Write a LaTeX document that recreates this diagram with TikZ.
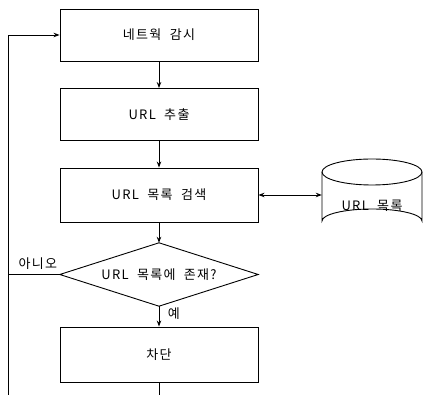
\documentclass[tikz,border=0pt]{standalone}
\usepackage{fontspec}
\setmainfont{Noto Sans CJK KR}[LetterSpace=10,WordSpace=2]
\usetikzlibrary{arrows.meta}
\begin{document}
\begin{tikzpicture}[x=1pt,y=-1pt,
  every node/.style={font=\fontsize{13}{15}\selectfont},
  proc/.style={draw,line width=0.9pt,minimum width=198pt,minimum height=52pt,inner sep=0pt},
  ln/.style={line width=0.9pt},
  arr/.style={ln,-{Stealth[length=6pt,width=4.5pt]}},
  darr/.style={ln,{Stealth[length=6pt,width=4.5pt]}-{Stealth[length=6pt,width=4.5pt]}}]
\useasboundingbox (0,0) rectangle (424,395);
\clip (0,0) rectangle (424,395);
\node[proc] (b1) at (159,35) {네트웍 감시};
\node[proc] (b2) at (159,114.5) {URL 추출};
\node[proc,minimum height=54pt] (b3) at (159,195) {URL 목록 검색};
\node[inner sep=0pt,minimum width=198pt,minimum height=63pt] (dec) at (159,274.5) {URL 목록에 존재?};
\draw[ln] (dec.north) -- (dec.east) -- (dec.south) -- (dec.west) -- cycle;
\node[proc,minimum height=55pt] (b4) at (159,354.5) {차단};
% cylinder
\node[inner sep=0pt,minimum width=100pt,minimum height=52pt] (db) at (372,195) {};
\node (dbt) at (372,206) {URL 목록};
\draw[ln] (322,172) arc[x radius=50,y radius=13,start angle=180,end angle=-180];
\draw[ln] (322,172) -- (322,221) arc[x radius=50,y radius=12,start angle=180,end angle=360] -- (422,172);
% connectors
\draw[arr] (b1) -- (b2);
\draw[arr] (b2) -- (b3);
\draw[arr] (b3) -- (dec.north);
\draw[arr] (dec.south) -- (b4) node[pos=0.35,right=5pt] {예};
\draw[darr] (b3.east) -- (db.west);
\coordinate (lb) at (8,400);
\draw[arr] (b4.south) |- (lb) |- (b1.west);
\draw[ln] (dec.west) -- (dec.west -| lb) node[midway,above=1pt,xshift=4pt] {아니오};
\end{tikzpicture}
\end{document}
